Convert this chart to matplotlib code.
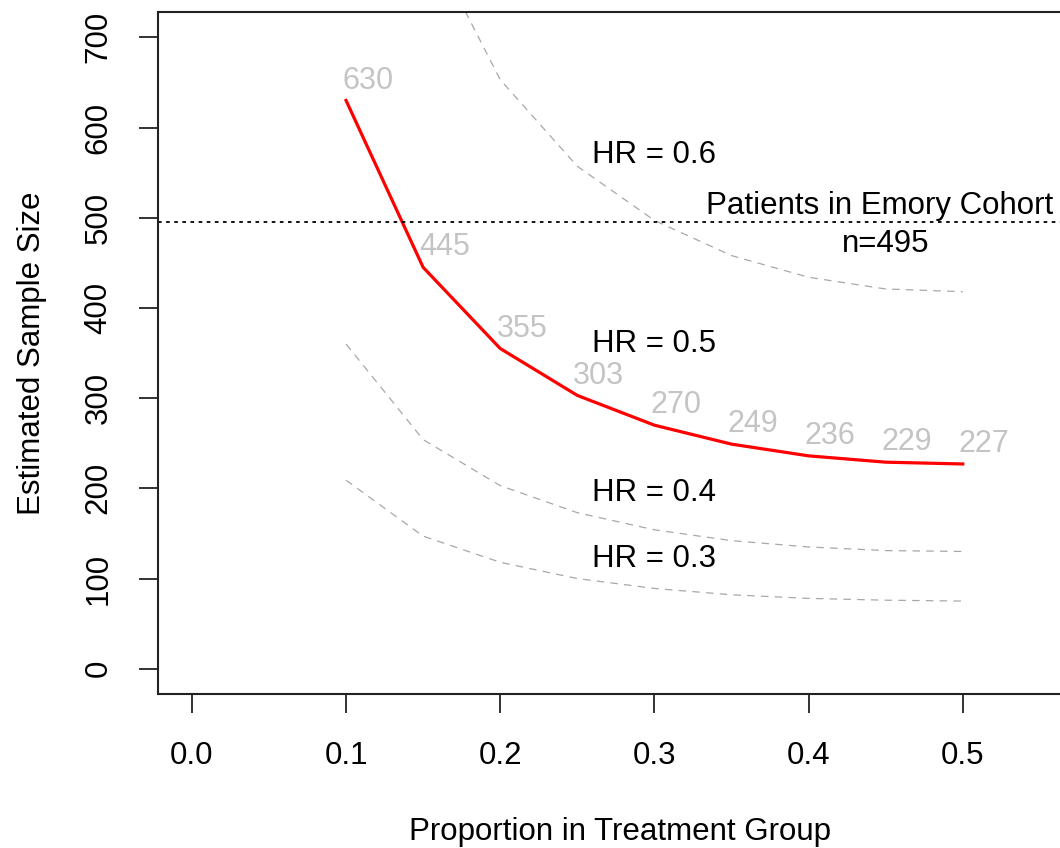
import matplotlib
matplotlib.use("Agg")
import matplotlib.pyplot as plt

plt.rcParams['font.family'] = ['Liberation Sans', 'DejaVu Sans']

# proportion allocated to treatment
prop = [0.10, 0.15, 0.20, 0.25, 0.30, 0.35, 0.40, 0.45, 0.50]

# estimated sample size for each hazard ratio
n_hr05 = [630, 445, 355, 303, 270, 249, 236, 229, 227]
n_hr06 = [1160, 820, 653, 557, 497, 458, 434, 421, 418]
n_hr04 = [360, 254, 203, 173, 154, 142, 135, 131, 130]
n_hr03 = [209, 147, 118, 100, 89, 82, 78, 76, 75]

hr_labels = ["HR = 0.6", "HR = 0.5", "HR = 0.4", "HR = 0.3"]
hr_label_y = [570, 360, 195, 122]

cohort_n = 495

fs = 22.5

fig = plt.figure(figsize=(10.6, 8.48), dpi=100)
ax = fig.add_axes([0.149, 0.1816, 0.864, 0.8042])

for n in (n_hr06, n_hr04, n_hr03):
    ax.plot(prop, n, color='#a8a8a8', lw=0.9, dashes=(6, 5))

ax.plot(prop, n_hr05, color='#ff0000', lw=2.3)

for x, y in zip(prop, n_hr05):
    ax.text(x + 0.014, y + 22, str(y), color='#c4c4c4', fontsize=22,
            ha='center', va='center')

for lab, y in zip(hr_labels, hr_label_y):
    ax.text(0.3, y, lab, fontsize=fs, ha='center', va='center')

ax.axhline(cohort_n, color='black', lw=1.3, ls=(0, (2, 2.5)))
ax.text(0.446, 513, "Patients in Emory Cohort", fontsize=fs, ha='center', va='center')
ax.text(0.45, 471, "n=%d" % cohort_n, fontsize=fs, ha='center', va='center')

ax.set_xlim(-0.022, 0.572)
ax.set_ylim(-28, 728)
ax.set_xticks([0.0, 0.1, 0.2, 0.3, 0.4, 0.5])
ax.set_xticklabels(["0.0", "0.1", "0.2", "0.3", "0.4", "0.5"])
ax.set_yticks(range(0, 701, 100))
ax.set_yticklabels([str(v) for v in range(0, 701, 100)], rotation=90, va='center')
ax.tick_params(axis='both', length=14, width=1.3, labelsize=fs, pad=18, color='#222222')
ax.tick_params(axis='x', pad=20)
for s in ax.spines.values():
    s.set_linewidth(1.5)
    s.set_color('#222222')

ax.set_xlabel("Proportion in Treatment Group", fontsize=fs, va='center')
ax.set_ylabel("Estimated Sample Size", fontsize=fs, va='center')
ax.xaxis.set_label_coords(0.505, -0.202)
ax.yaxis.set_label_coords(-0.137, 0.5)

fig.savefig("out.png", dpi=100)
